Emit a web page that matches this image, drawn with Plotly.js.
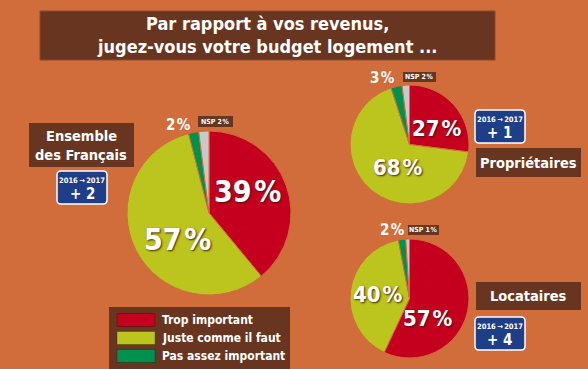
<!DOCTYPE html>
<html><head><meta charset="utf-8">
<script src="https://cdn.plot.ly/plotly-3.0.1.min.js"></script>
<style>html,body{margin:0;padding:0;background:#D06D3B;}#chart{width:588px;height:369px;}</style>
</head><body><div id="chart"></div>
<script>
// ---- data ----
const categories = ['Trop important', 'Juste comme il faut', 'Pas assez important', 'NSP'];
const groups = ['Ensemble des Français', 'Propriétaires', 'Locataires'];
const ensembleValues = [39, 57, 2, 2];
const proprietairesValues = [27, 68, 3, 2];
const locatairesValues = [57, 40, 2, 1];
const evolution = ['+ 2', '+ 1', '+ 4'];
const evolutionPeriod = '2016\u2009\u2192\u20092017';
const titleLines = ['Par rapport à vos revenus,', 'jugez-vous votre budget logement ...'];

// ---- style ----
const W = 588, H = 369;
const BG = '#D06D3B', BROWN = '#683620', BLUE = '#1F3E88';
const colors = ['#C5001F', '#BCC51D', '#00914F', '#C9C9C9'];
const FONT = '"DejaVu Sans Condensed", "Liberation Sans Narrow", sans-serif';
const px = x => x / W, py = y => 1 - y / H;

function pie(values, cx, cy, r) {
  return {
    type: 'pie', values: values, labels: categories, sort: false,
    direction: 'clockwise', rotation: 0, textinfo: 'none', hoverinfo: 'none',
    marker: {colors: colors, line: {color: BG, width: 1}},
    domain: {x: [px(cx - r), px(cx + r)], y: [py(cy + r), py(cy - r)]},
    showlegend: false
  };
}
const data = [
  pie(ensembleValues, 209, 213, 82),
  pie(proprietairesValues, 409.5, 144.5, 59.5),
  pie(locatairesValues, 409.5, 298.5, 59.5)
];

const shapes = [];
const annotations = [];
function rect(x0, y0, x1, y1, fill, line) {
  shapes.push({type: 'rect', xref: 'paper', yref: 'paper', x0: px(x0), x1: px(x1), y0: py(y1), y1: py(y0),
    fillcolor: fill, line: line || {width: 0}});
}
function rrect(x0, y0, x1, y1, r, fill, line) {
  const P = (x, y) => px(x) + ',' + py(y);
  const path = 'M' + P(x0 + r, y0) + ' L' + P(x1 - r, y0) + ' Q' + P(x1, y0) + ' ' + P(x1, y0 + r) +
    ' L' + P(x1, y1 - r) + ' Q' + P(x1, y1) + ' ' + P(x1 - r, y1) + ' L' + P(x0 + r, y1) +
    ' Q' + P(x0, y1) + ' ' + P(x0, y1 - r) + ' L' + P(x0, y0 + r) + ' Q' + P(x0, y0) + ' ' + P(x0 + r, y0) + ' Z';
  shapes.push({type: 'path', xref: 'paper', yref: 'paper', path: path, fillcolor: fill, line: line});
}
function text(t, x, y, size, opts) {
  opts = opts || {};
  annotations.push(Object.assign({xref: 'paper', yref: 'paper', x: px(x), y: py(y), text: t, showarrow: false,
    xanchor: 'center', yanchor: 'middle',
    font: Object.assign({family: FONT, size: size, color: 'white', weight: 'bold'}, opts.font || {})},
    opts.extra || {}));
}
const pct = v => v + '\u200a%';
const bigShadow = '1px 1px 2px rgba(60,20,10,0.9)';

// title
rect(40, 11, 495, 60, BROWN, {color: '#8a4a2a', width: 1});
text(titleLines[0], 267, 23.5, 18);
text(titleLines[1], 267, 46, 18);

// group labels
rect(29, 123, 134, 167, BROWN);
text('Ensemble', 81.5, 136, 14.5);
text('des Français', 81.5, 155, 14.5);
rect(476, 148, 581, 177, BROWN);
text(groups[1], 528.5, 163, 14.5);
rect(476, 282, 581, 310, BROWN);
text(groups[2], 528.5, 296, 14.5);

// evolution badges
const badges = [[57, 171], [475, 110], [475, 317]];
badges.forEach((b, i) => {
  rrect(b[0], b[1], b[0] + 50, b[1] + 33, 4, BLUE, {color: 'white', width: 1.5});
  text(evolutionPeriod, b[0] + 25, b[1] + 9.5, 7.5);
  text(evolution[i], b[0] + 25, b[1] + 22.5, 15);
});

// big percentages
text(pct(ensembleValues[0]), 247, 191, 30, {font: {shadow: bigShadow}});
text(pct(ensembleValues[1]), 177, 239, 30, {font: {shadow: bigShadow}});
text(pct(proprietairesValues[0]), 437, 128, 22, {font: {shadow: bigShadow}});
text(pct(proprietairesValues[1]), 398, 167, 22, {font: {shadow: bigShadow}});
text(pct(locatairesValues[1]), 378, 294, 22, {font: {shadow: bigShadow}});
text(pct(locatairesValues[0]), 428, 318, 22, {font: {shadow: bigShadow}});

// small slices
text(pct(ensembleValues[2]), 178, 125, 15);
text(pct(proprietairesValues[2]), 382, 78, 15);
text(pct(locatairesValues[2]), 392, 230, 15);
const nsp = [[198, 116, 233, 127, ensembleValues[3]], [403, 72, 436, 82, proprietairesValues[3]], [408, 225, 439, 235, locatairesValues[3]]];
nsp.forEach(n => {
  rect(n[0], n[1], n[2], n[3], BROWN);
  text(categories[3] + ' ' + pct(n[4]), (n[0] + n[2]) / 2, (n[1] + n[3]) / 2, 7);
});

// legend
rect(109, 307, 290, 369, BROWN);
const rowY = [320, 338, 356];
categories.slice(0, 3).forEach((c, i) => {
  rect(117, rowY[i] - 6.5, 155, rowY[i] + 6.5, colors[i], {color: 'rgba(0,0,0,0.25)', width: 1});
  text(c, 160, rowY[i], 12, {extra: {xanchor: 'left'}});
});

const layout = {
  width: W, height: H, margin: {l: 0, r: 0, t: 0, b: 0},
  paper_bgcolor: BG, plot_bgcolor: BG, showlegend: false,
  shapes: shapes, annotations: annotations
};
Plotly.newPlot('chart', data, layout, {staticPlot: true, displayModeBar: false});
</script></body></html>
